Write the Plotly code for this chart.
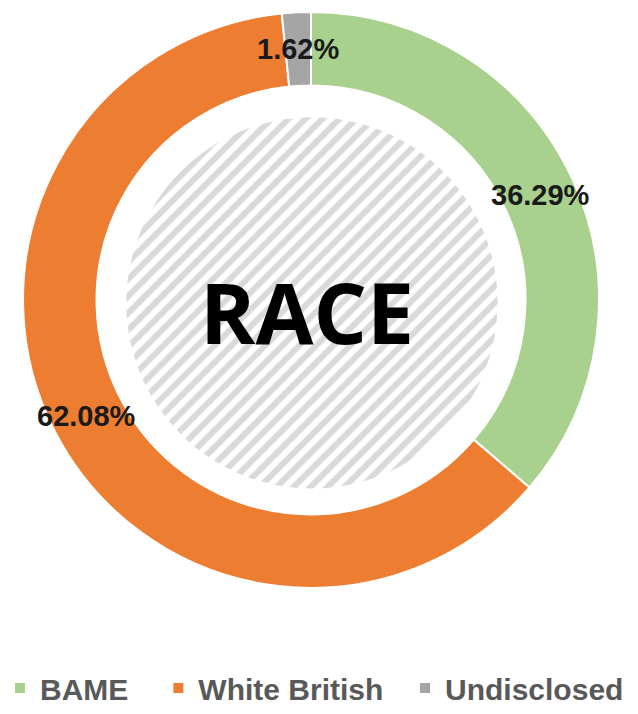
import math
import plotly.graph_objects as go

# Ethnicity breakdown (percent of total)
categories = ["BAME", "White British", "Undisclosed"]
shares = [36.29, 62.08, 1.62]
colors = ["#a9d18e", "#ed7d31", "#a5a5a5"]
center_title = "RACE"

# Extra space after each legend entry (non-breaking spaces)
legend_pad = [3, 2, 0]

# Canvas and ring geometry (pixels)
W, H = 638, 714
cx, cy = 311, 302
R_OUT, R_IN = 290, 216
HATCH_R = 187
hatch_cx, hatch_cy = 312, 305


def domain_for(x0, y0, r):
    return dict(x=[(x0 - r) / W, (x0 + r) / W],
                y=[1 - (y0 + r) / H, 1 - (y0 - r) / H])


fig = go.Figure()

# Donut ring
fig.add_trace(go.Pie(
    labels=[c + "\u00a0" * p for c, p in zip(categories, legend_pad)],
    values=shares,
    marker=dict(colors=colors, line=dict(color="white", width=2)),
    hole=R_IN / R_OUT,
    sort=False,
    direction="clockwise",
    rotation=0,
    textinfo="none",
    domain=domain_for(cx, cy, R_OUT),
    hovertemplate="%{label}: %{value:.2f}%<extra></extra>",
))

# Hatched disc in the centre of the donut
fig.add_trace(go.Pie(
    labels=["centre"],
    values=[1],
    marker=dict(colors=["white"], line=dict(width=0),
                pattern=dict(shape="/", fgcolor="#d9d9d9", bgcolor="white",
                             size=12, solidity=0.5)),
    textinfo="none",
    showlegend=False,
    hoverinfo="skip",
    domain=domain_for(hatch_cx, hatch_cy, HATCH_R),
))

# Percentage labels placed at the middle of each ring segment
total = sum(shares)
r_mid = (R_OUT + R_IN) / 2
cum = 0.0
for v in shares:
    ang = 2 * math.pi * (cum + v / 2) / total
    x = cx + r_mid * math.sin(ang)
    y = cy - r_mid * math.cos(ang)
    fig.add_annotation(
        x=x / W, y=1 - y / H, xref="paper", yref="paper",
        xanchor="center", yanchor="middle",
        text=f"{v:.2f}%", showarrow=False,
        font=dict(family="Liberation Sans", size=29, color="#1a1a1a", weight="bold"),
    )
    cum += v

fig.add_annotation(
    x=307 / W, y=1 - 314 / H, xref="paper", yref="paper",
    xanchor="center", yanchor="middle",
    text=center_title, showarrow=False,
    font=dict(family="Open Sans", size=84, color="#000000", weight="bold"),
)

fig.update_layout(
    width=W, height=H,
    margin=dict(l=0, r=0, t=0, b=0),
    paper_bgcolor="white",
    plot_bgcolor="white",
    showlegend=True,
    legend=dict(
        orientation="h",
        x=0, xanchor="left",
        y=1 - 693 / H, yanchor="middle",
        font=dict(family="Liberation Sans", size=30, color="#595959", weight="bold"),
        itemwidth=30,
    ),
)

fig.write_html("out.html")
